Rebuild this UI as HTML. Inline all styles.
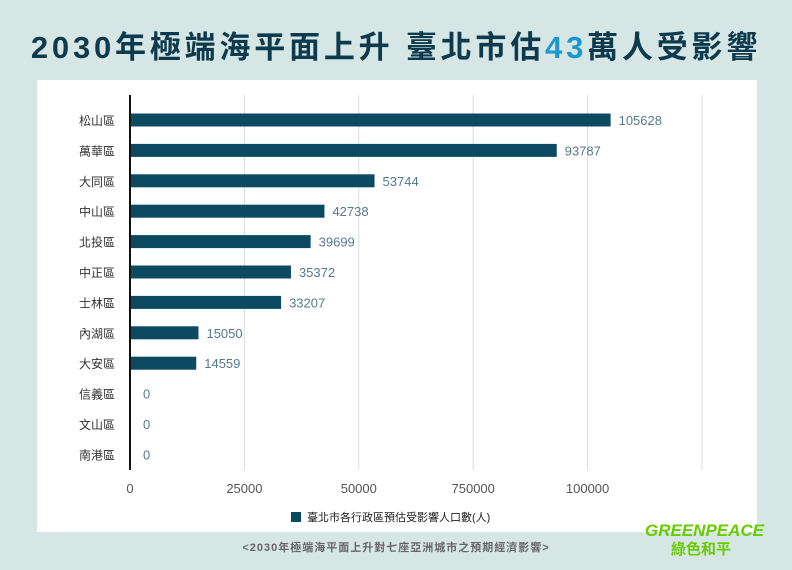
<!DOCTYPE html>
<html><head><meta charset="utf-8"><style>
body{margin:0;width:792px;height:570px;background:#d6e6e4;font-family:"Liberation Sans","Noto Sans CJK TC",sans-serif;position:relative;overflow:hidden}
#title{position:absolute;top:22px;left:0;width:792px;text-align:center;font-size:31px;font-weight:bold;color:#0d3b4d;letter-spacing:3.8px;font-family:"Liberation Sans","Noto Sans CJK TC",sans-serif}
#title span{color:#1b97d2}
#panel{position:absolute;left:37px;top:80px;width:720px;height:452px;background:#fff}
#foot{position:absolute;top:539px;left:0;width:792px;text-align:center;font-size:11px;font-weight:bold;color:#666;letter-spacing:1px}
#logo{position:absolute;left:645px;top:522px;color:#66cc00;font-weight:bold;font-style:italic;font-size:17px;line-height:18px;text-align:center;width:112px}
</style></head><body>
<div id="title">2030年極端海平面上升 臺北市估<span>43</span>萬人受影響</div>
<div id="panel"></div>
<svg id="chart" width="792" height="570" style="position:absolute;left:0;top:0"></svg>
<div id="foot">&lt;2030年極端海平面上升對七座亞洲城市之預期經濟影響&gt;</div>
<div id="logo">GREENPEACE<br><span style="font-style:normal;font-size:15px">綠色和平</span></div>
<script>
const categories=["松山區","萬華區","大同區","中山區","北投區","中正區","士林區","內湖區","大安區","信義區","文山區","南港區"];
const values=[105628,93787,53744,42738,39699,35372,33207,15050,14559,0,0,0];
const tickLabels=["0","25000","50000","750000","100000",""];
const tickValues=[0,25000,50000,75000,100000,125000];
const svg=document.getElementById('chart');
const NS='http://www.w3.org/2000/svg';
const x0=130, gridStep=114.4/25000, barScale=0.00455;
const xGrid=v=>x0+v*gridStep;
const xBar=v=>x0+v*barScale;
const yRow=i=>120+i*30.4;
function mk(t,a){const e=document.createElementNS(NS,t);for(const k in a)e.setAttribute(k,a[k]);svg.appendChild(e);return e;}
tickValues.forEach((v,i)=>{
 if(i>0){const g=mk('line',{x1:xGrid(v),x2:xGrid(v),y1:95,y2:470,stroke:'#dddddd','stroke-width':1});
 
 }
 if(tickLabels[i]){const t=mk('text',{x:xGrid(v),y:493,'text-anchor':'middle','font-size':13,fill:'#555'});t.textContent=tickLabels[i];
 
 }
});
categories.forEach((c,i)=>{
 const y=yRow(i);
 const l=mk('text',{x:115,y:y+5,'text-anchor':'end','font-size':12,fill:'#333'});l.textContent=c;
 
 
 if(values[i]>0){const b=mk('rect',{x:x0,y:y-6.5,width:xBar(values[i])-x0,height:13,fill:'#0b4a60'});
 
 }
 const v=mk('text',{x:xBar(values[i])+(values[i]>0?8:13),y:y+5,'font-size':13,fill:'#557a8a'});v.textContent=values[i];
 
 
});
const ax=mk('line',{x1:x0,x2:x0,y1:95,y2:470,stroke:'#111','stroke-width':2});


const lr=mk('rect',{x:291,y:512,width:10,height:10,fill:'#0b4a60'});


const lt=mk('text',{x:307,y:521,'font-size':11,fill:'#222'});lt.textContent='臺北市各行政區預估受影響人口數(人)';


</script>
</body></html>
